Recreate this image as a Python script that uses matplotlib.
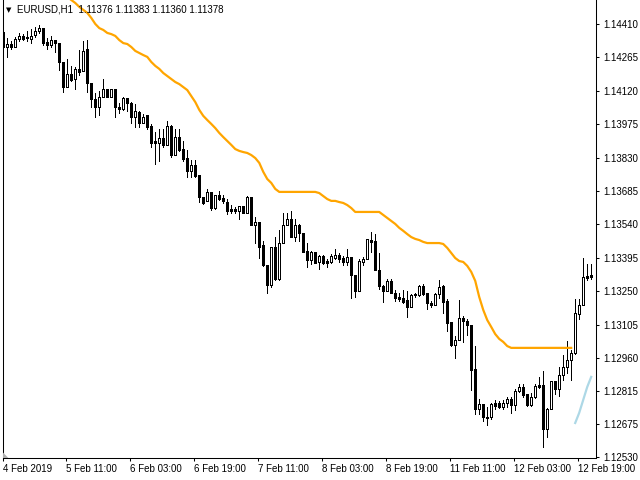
import matplotlib
matplotlib.use("Agg")
from matplotlib import pyplot as plt
from matplotlib.patches import Polygon

# EURUSD H1, 4 Feb 19:00 .. 12 Feb 2019 (one entry per hourly bar)
opens = [
  1.14375, 1.14310, 1.14323, 1.14310, 1.14345, 1.14358, 1.14353, 1.14345, 1.14362, 1.14379,
  1.14392, 1.14332, 1.14319, 1.14340, 1.14327, 1.14245, 1.14136, 1.14193, 1.14171, 1.14215,
  1.14206, 1.14301, 1.14154, 1.14084, 1.14050, 1.14093, 1.14128, 1.14093, 1.14128, 1.14050,
  1.14041, 1.14089, 1.14067, 1.14006, 1.14028, 1.13980, 1.14015, 1.13967, 1.13902, 1.13893,
  1.13915, 1.13885, 1.13967, 1.13841, 1.13919, 1.13867, 1.13828, 1.13772, 1.13798, 1.13755,
  1.13659, 1.13642, 1.13681, 1.13611, 1.13668, 1.13655, 1.13637, 1.13607, 1.13607, 1.13598,
  1.13620, 1.13590, 1.13659, 1.13538, 1.13550, 1.13451, 1.13364, 1.13277, 1.13442, 1.13303,
  1.13459, 1.13538, 1.13563, 1.13485, 1.13538, 1.13503, 1.13425, 1.13386, 1.13420, 1.13377,
  1.13403, 1.13381, 1.13377, 1.13394, 1.13407, 1.13394, 1.13377, 1.13399, 1.13321, 1.13251,
  1.13377, 1.13390, 1.13472, 1.13468, 1.13342, 1.13273, 1.13251, 1.13295, 1.13242, 1.13225,
  1.13221, 1.13212, 1.13182, 1.13234, 1.13234, 1.13273, 1.13242, 1.13199, 1.13190, 1.13238,
  1.13273, 1.13208, 1.13116, 1.13017, 1.13038, 1.13134, 1.13121, 1.13103, 1.12912, 1.12739,
  1.12761, 1.12704, 1.12704, 1.12765, 1.12765, 1.12748, 1.12765, 1.12782, 1.12756, 1.12817,
  1.12834, 1.12804, 1.12756, 1.12791, 1.12843, 1.12843, 1.12652, 1.12739, 1.12861, 1.12826,
  1.12887, 1.12921, 1.12952, 1.12982, 1.13151, 1.13190, 1.13316, 1.13321]
highs = [
  1.14401, 1.14349, 1.14336, 1.14353, 1.14371, 1.14366, 1.14379, 1.14388, 1.14397, 1.14405,
  1.14392, 1.14349, 1.14358, 1.14340, 1.14327, 1.14245, 1.14258, 1.14228, 1.14223, 1.14297,
  1.14336, 1.14340, 1.14154, 1.14110, 1.14119, 1.14171, 1.14128, 1.14128, 1.14128, 1.14067,
  1.14093, 1.14089, 1.14071, 1.14063, 1.14032, 1.14019, 1.14015, 1.13976, 1.13941, 1.13954,
  1.13954, 1.13989, 1.13971, 1.13954, 1.13954, 1.13902, 1.13863, 1.13820, 1.13820, 1.13755,
  1.13659, 1.13694, 1.13681, 1.13668, 1.13685, 1.13668, 1.13650, 1.13624, 1.13616, 1.13620,
  1.13620, 1.13663, 1.13659, 1.13572, 1.13550, 1.13468, 1.13364, 1.13442, 1.13485, 1.13516,
  1.13590, 1.13590, 1.13598, 1.13563, 1.13542, 1.13503, 1.13459, 1.13425, 1.13420, 1.13407,
  1.13407, 1.13390, 1.13412, 1.13433, 1.13416, 1.13403, 1.13433, 1.13399, 1.13321, 1.13390,
  1.13399, 1.13477, 1.13507, 1.13498, 1.13416, 1.13277, 1.13303, 1.13303, 1.13255, 1.13242,
  1.13255, 1.13251, 1.13238, 1.13242, 1.13277, 1.13281, 1.13242, 1.13208, 1.13242, 1.13299,
  1.13277, 1.13216, 1.13116, 1.13056, 1.13212, 1.13143, 1.13130, 1.13103, 1.13012, 1.12782,
  1.12761, 1.12748, 1.12765, 1.12778, 1.12774, 1.12778, 1.12791, 1.12791, 1.12826, 1.12847,
  1.12847, 1.12804, 1.12808, 1.12847, 1.12878, 1.12904, 1.12743, 1.12861, 1.12861, 1.12921,
  1.12973, 1.13034, 1.12995, 1.13216, 1.13216, 1.13394, 1.13368, 1.13368]
lows = [
  1.14293, 1.14267, 1.14301, 1.14310, 1.14336, 1.14340, 1.14336, 1.14327, 1.14353, 1.14371,
  1.14319, 1.14301, 1.14310, 1.14288, 1.14210, 1.14115, 1.14136, 1.14162, 1.14128, 1.14188,
  1.14206, 1.14115, 1.14050, 1.14006, 1.14015, 1.14093, 1.14093, 1.14093, 1.14006, 1.14024,
  1.14037, 1.14032, 1.13980, 1.13963, 1.13963, 1.13980, 1.13954, 1.13876, 1.13802, 1.13815,
  1.13876, 1.13885, 1.13833, 1.13841, 1.13859, 1.13815, 1.13746, 1.13746, 1.13746, 1.13637,
  1.13629, 1.13642, 1.13603, 1.13607, 1.13646, 1.13633, 1.13585, 1.13590, 1.13590, 1.13563,
  1.13590, 1.13590, 1.13538, 1.13459, 1.13394, 1.13360, 1.13242, 1.13268, 1.13299, 1.13299,
  1.13459, 1.13538, 1.13485, 1.13468, 1.13468, 1.13420, 1.13355, 1.13368, 1.13373, 1.13347,
  1.13368, 1.13355, 1.13373, 1.13390, 1.13377, 1.13364, 1.13364, 1.13221, 1.13225, 1.13251,
  1.13364, 1.13390, 1.13420, 1.13342, 1.13260, 1.13203, 1.13251, 1.13242, 1.13208, 1.13208,
  1.13199, 1.13138, 1.13182, 1.13225, 1.13229, 1.13234, 1.13173, 1.13182, 1.13190, 1.13221,
  1.13156, 1.13077, 1.13012, 1.12960, 1.13038, 1.13030, 1.13060, 1.12821, 1.12717, 1.12717,
  1.12687, 1.12670, 1.12696, 1.12739, 1.12743, 1.12739, 1.12748, 1.12722, 1.12735, 1.12813,
  1.12791, 1.12752, 1.12752, 1.12787, 1.12830, 1.12574, 1.12617, 1.12739, 1.12804, 1.12795,
  1.12865, 1.12895, 1.12865, 1.12978, 1.13130, 1.13190, 1.13299, 1.13303]
closes = [
  1.14310, 1.14323, 1.14310, 1.14345, 1.14358, 1.14345, 1.14349, 1.14358, 1.14379, 1.14392,
  1.14327, 1.14319, 1.14340, 1.14327, 1.14245, 1.14136, 1.14193, 1.14167, 1.14215, 1.14201,
  1.14293, 1.14154, 1.14084, 1.14050, 1.14093, 1.14128, 1.14093, 1.14128, 1.14050, 1.14041,
  1.14089, 1.14067, 1.14006, 1.14032, 1.13980, 1.14006, 1.13963, 1.13893, 1.13893, 1.13915,
  1.13885, 1.13967, 1.13841, 1.13919, 1.13863, 1.13824, 1.13772, 1.13798, 1.13750, 1.13659,
  1.13633, 1.13681, 1.13611, 1.13668, 1.13650, 1.13642, 1.13598, 1.13598, 1.13598, 1.13620,
  1.13590, 1.13659, 1.13538, 1.13550, 1.13442, 1.13364, 1.13277, 1.13442, 1.13303, 1.13459,
  1.13538, 1.13563, 1.13485, 1.13538, 1.13503, 1.13420, 1.13386, 1.13420, 1.13373, 1.13403,
  1.13373, 1.13373, 1.13403, 1.13407, 1.13390, 1.13377, 1.13399, 1.13321, 1.13251, 1.13381,
  1.13390, 1.13477, 1.13464, 1.13342, 1.13273, 1.13251, 1.13295, 1.13242, 1.13221, 1.13216,
  1.13203, 1.13182, 1.13234, 1.13238, 1.13273, 1.13238, 1.13199, 1.13190, 1.13238, 1.13268,
  1.13203, 1.13112, 1.13017, 1.13038, 1.13134, 1.13121, 1.13103, 1.12908, 1.12739, 1.12761,
  1.12704, 1.12700, 1.12761, 1.12752, 1.12748, 1.12765, 1.12782, 1.12756, 1.12817, 1.12834,
  1.12800, 1.12756, 1.12791, 1.12839, 1.12834, 1.12652, 1.12739, 1.12861, 1.12826, 1.12887,
  1.12921, 1.12952, 1.12982, 1.13156, 1.13190, 1.13312, 1.13308, 1.13312]

# orange indicator line, starts at bar 16
orange_start = 16
orange_vals = [
  1.14527, 1.14514, 1.14501, 1.14484, 1.14471, 1.14458, 1.14436, 1.14410, 1.14392, 1.14384,
  1.14371, 1.14366, 1.14358, 1.14340, 1.14327, 1.14323, 1.14310, 1.14293, 1.14284, 1.14275,
  1.14267, 1.14245, 1.14228, 1.14215, 1.14197, 1.14184, 1.14171, 1.14158, 1.14149, 1.14136,
  1.14123, 1.14097, 1.14071, 1.14037, 1.14011, 1.13993, 1.13976, 1.13958, 1.13937, 1.13919,
  1.13902, 1.13885, 1.13867, 1.13859, 1.13854, 1.13850, 1.13841, 1.13828, 1.13807, 1.13768,
  1.13737, 1.13720, 1.13694, 1.13681, 1.13681, 1.13681, 1.13681, 1.13681, 1.13681, 1.13681,
  1.13681, 1.13681, 1.13681, 1.13676, 1.13663, 1.13650, 1.13642, 1.13642, 1.13637, 1.13633,
  1.13624, 1.13611, 1.13594, 1.13594, 1.13594, 1.13594, 1.13594, 1.13594, 1.13594, 1.13581,
  1.13568, 1.13555, 1.13542, 1.13525, 1.13512, 1.13498, 1.13485, 1.13477, 1.13472, 1.13464,
  1.13459, 1.13459, 1.13459, 1.13459, 1.13455, 1.13438, 1.13416, 1.13394, 1.13381, 1.13377,
  1.13360, 1.13334, 1.13295, 1.13225, 1.13169, 1.13125, 1.13095, 1.13064, 1.13043, 1.13030,
  1.13012, 1.13004, 1.13004, 1.13004, 1.13004, 1.13004, 1.13004, 1.13004, 1.13004, 1.13004,
  1.13004, 1.13004, 1.13004, 1.13004, 1.13004, 1.13004, 1.13004]

# light blue indicator on the last bars
blue_start = 143
blue_vals = [1.12678, 1.12722, 1.12778, 1.12834, 1.12878]

price_ticks = [1.14410, 1.14265, 1.14120, 1.13975, 1.13830, 1.13685, 1.13540,
               1.13395, 1.13250, 1.13105, 1.12960, 1.12815, 1.12675, 1.12530]
time_bars = [0, 16, 32, 48, 64, 80, 96, 112, 128, 144]
time_labels = ["4 Feb 2019", "5 Feb 11:00", "6 Feb 03:00", "6 Feb 19:00", "7 Feb 11:00",
               "8 Feb 03:00", "8 Feb 19:00", "11 Feb 11:00", "12 Feb 03:00", "12 Feb 19:00"]

plt.rcParams['font.family'] = ['Liberation Sans', 'DejaVu Sans']

fig = plt.figure(figsize=(6.4, 4.8), dpi=100)
ax = fig.add_axes([3/640, 22/480, 593/640, 458/480])
ax.set_xlim(-0.08, 148.2)
ax.set_ylim(1.12526, 1.14514)

# candles: 1px wicks, 3px bodies (hollow = up bar, filled = down bar)
x = list(range(len(opens)))
ax.vlines(x, lows, highs, colors='black', linewidth=0.6, antialiased=False, zorder=2)
faces = ['white' if c >= o else 'black' for o, c in zip(opens, closes)]
heights = [c - o for o, c in zip(opens, closes)]
ax.bar(x, heights, bottom=opens, width=0.45, color=faces, edgecolor='black',
       linewidth=0.6, antialiased=False, zorder=3)

# indicators
ox = list(range(orange_start, orange_start + len(orange_vals)))
ax.plot(ox, orange_vals, color='#FFA500', linewidth=1.6, zorder=4)
bx = list(range(blue_start, blue_start + len(blue_vals)))
ax.plot(bx, blue_vals, color='#ADD8E6', linewidth=1.6, zorder=4)

# price scale on the right
ax.yaxis.tick_right()
ax.set_yticks(price_ticks)
ax.set_yticklabels(["%.5f" % p for p in price_ticks])
ax.tick_params(axis='y', direction='out', length=2.5, width=0.75, pad=3, labelsize=7, colors='black')

# time scale
tpos = [max(b - 0.4, -0.05) for b in time_bars]
ax.set_xticks(tpos)
ax.set_xticklabels(time_labels)
for lbl in ax.get_xticklabels():
  lbl.set_horizontalalignment('left')
ax.tick_params(axis='x', direction='out', length=2.5, width=0.75, pad=1.5, labelsize=7, colors='black')

for side in ['left', 'right', 'bottom']:
  ax.spines[side].set_linewidth(0.75)
  ax.spines[side].set_color('black')
ax.spines['top'].set_visible(False)

# grey shift marker in the bottom-left corner
ax.add_patch(Polygon([[0.0, 0.0], [0.009, 0.0], [0.0, 0.012]], closed=True,
                     transform=ax.transAxes, facecolor='#B0B0B0', edgecolor='none', zorder=5))

# chart header
fig.text(6/640, 1 - 10/480, u"\u25BC", fontsize=5, va='center', family=['DejaVu Sans'])
fig.text(17/640, 1 - 10/480, "EURUSD,H1  1.11376 1.11383 1.11360 1.11378",
         fontsize=7, va='center')

fig.savefig("out.png", dpi=100)
